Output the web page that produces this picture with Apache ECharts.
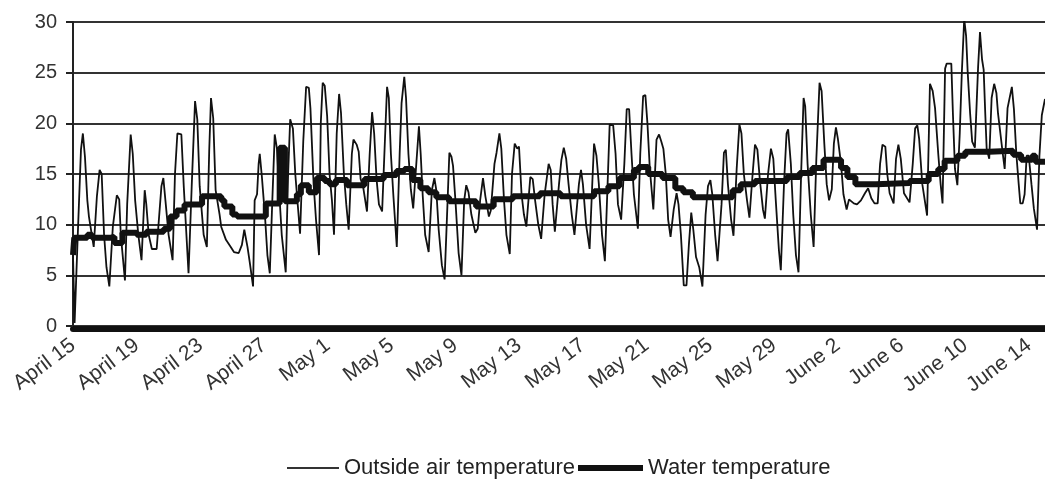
<!DOCTYPE html>
<html>
<head>
<meta charset="utf-8">
<script src="https://cdn.jsdelivr.net/npm/echarts@6/dist/echarts.min.js"></script>
<style>html,body{margin:0;padding:0;background:#fff;}#c{width:1045px;height:482px;}</style>
</head>
<body>
<div id="c"></div>
<script>
// x positions are days since April 15, 00:00
const tickLabels = ['April 15','April 19','April 23','April 27','May 1','May 5','May 9','May 13','May 17','May 21','May 25','May 29','June 2','June 6','June 10','June 14'];
const yTicks = [0, 5, 10, 15, 20, 25, 30];

const airDay = [0.0,0.1,0.3,0.5,0.62,0.75,0.9,1.0,1.3,1.5,1.67,1.8,1.95,2.1,2.28,2.5,2.75,2.9,3.0,3.26,3.4,3.62,3.75,3.9,4.1,4.3,4.5,4.6,4.75,4.95,5.25,5.55,5.67,5.8,6.0,6.25,6.4,6.55,6.8,6.95,7.25,7.45,7.66,7.8,7.95,8.2,8.4,8.55,8.66,8.8,8.95,9.2,9.3,9.6,9.9,10.1,10.4,10.6,10.75,10.95,11.1,11.3,11.4,11.55,11.65,11.72,11.85,12.05,12.2,12.35,12.5,12.66,12.8,12.95,13.1,13.35,13.5,13.63,13.8,13.95,14.25,14.45,14.63,14.8,14.9,15.1,15.25,15.44,15.55,15.67,15.8,15.95,16.1,16.25,16.38,16.55,16.7,16.82,17.0,17.15,17.3,17.5,17.6,17.8,17.93,18.05,18.2,18.45,18.62,18.77,18.9,19.05,19.2,19.4,19.58,19.71,19.82,19.95,20.1,20.32,20.5,20.62,20.79,20.9,21.05,21.2,21.35,21.5,21.71,21.82,21.95,22.1,22.32,22.52,22.68,22.8,22.95,23.15,23.32,23.5,23.62,23.75,23.85,24.0,24.2,24.38,24.55,24.68,24.82,25.0,25.25,25.4,25.55,25.73,25.88,26.1,26.22,26.45,26.58,26.76,26.88,27.05,27.2,27.41,27.55,27.72,27.88,27.99,28.15,28.3,28.45,28.7,28.85,29.0,29.2,29.38,29.6,29.85,29.98,30.1,30.24,30.5,30.65,30.8,30.95,31.1,31.3,31.47,31.75,31.88,32.0,32.2,32.42,32.6,32.7,32.85,33.0,33.2,33.38,33.55,33.68,33.9,34.05,34.2,34.4,34.6,34.75,34.9,35.05,35.2,35.45,35.6,35.78,35.92,36.05,36.2,36.42,36.62,36.78,36.92,37.05,37.2,37.35,37.5,37.7,37.88,38.0,38.15,38.33,38.5,38.65,38.8,38.93,39.1,39.3,39.5,39.7,39.85,40.0,40.12,40.3,40.45,40.7,40.85,40.97,41.1,41.3,41.45,41.65,41.82,41.95,42.1,42.3,42.45,42.65,42.8,42.95,43.1,43.3,43.42,43.62,43.8,43.95,44.1,44.3,44.42,44.62,44.78,44.88,45.05,45.2,45.37,45.53,45.7,45.85,45.95,46.1,46.3,46.48,46.65,46.85,46.98,47.15,47.3,47.45,47.62,47.75,47.88,48.0,48.2,48.35,48.55,48.7,48.85,49.0,49.2,49.45,49.7,49.9,50.1,50.3,50.5,50.65,50.8,50.98,51.1,51.25,51.5,51.65,51.8,51.95,52.15,52.5,52.7,52.85,52.99,53.1,53.3,53.6,53.78,53.95,54.1,54.3,54.45,54.57,54.73,54.83,55.12,55.22,55.35,55.5,55.65,55.78,55.93,56.05,56.15,56.3,56.43,56.6,56.8,56.92,57.05,57.15,57.25,57.34,57.5,57.65,57.81,57.95,58.05,58.2,58.35,58.47,58.65,58.92,59.05,59.2,59.35,59.45,59.6,59.72,59.85,59.98,60.15,60.3,60.5,60.65,60.8,61.0];
const airTemp = [7.0,0.3,9,17.4,19,16.7,12.4,10.8,7.8,12.8,15.4,15,9,5.8,3.9,9.8,12.9,12.5,9,4.5,12,18.9,17,12.4,9,6.5,13.4,12,9,7.6,7.6,13.8,14.6,12.4,9,6.5,15,19,18.9,13.8,5.2,13.8,22.2,20.4,13.8,9,7.8,17.4,22.5,20.5,13.4,11,9.8,8.5,7.8,7.3,7.2,8.0,9.5,7.8,6.2,3.9,12.4,13,16,17,14.8,10.8,7,5.2,12,18.9,17.5,13,9,5.3,15,20.4,19.5,15,9.1,18.2,23.6,23.5,21.5,14,10.5,7.0,20,24,23.7,20.7,15,12.4,9.0,19,22.9,21,15,12,9.5,17,18.4,17.9,17.2,14.5,13.8,11.3,17,21.1,19,14.5,12,11.3,18.5,23.6,22.5,17,13,7.8,17,22,24.6,22.5,17,13.5,11.6,15,19.7,17,12.8,9,7.3,13.4,14.6,13.4,9.5,6,4.6,12,17.1,16.7,15.8,12.4,7.2,5.0,12.4,13.9,13.2,11,9.2,9.6,12.4,14.6,12.8,10.8,11.4,16,17.1,19,17.5,12.4,9,7.1,15,18,17.5,17.7,13,11,9.8,14.7,14.5,12.4,10,8.6,13,16,15.4,12,9.3,14,16.4,17.6,16.5,14,11,9,14,15.4,14,10,7.6,14.5,18,16.8,14,9,6.4,14,19.9,19.8,17,12,10.5,16,21.4,21.4,17,13,9.6,17,22.7,22.8,20,15.5,11.5,18.4,18.9,18.2,17.5,15,10.5,8.8,11.5,13.1,12,9,4.0,4.0,8,11.2,9.5,6.8,5.8,3.9,11,13.8,14.4,13,9,6.4,12,17.1,17.4,14,10.5,8.9,15.5,19.9,19,15,12.4,10.7,15,17.9,17.4,14.5,11.5,10.6,15,17.5,16.5,12.5,7.5,5.5,14,19,19.4,16,11,7,5.3,15.3,22.5,21.7,16,11,7.8,16.5,24,23.2,18,14,12.4,13.5,18,19.6,18.5,16,13,11.5,12.5,12.3,12.1,12,12.4,13.1,13.6,12.6,12.1,12.1,16,17.9,17.7,15,13.1,12.1,16.5,17.9,16.5,13.1,12.2,16,19.5,19.8,18.5,14,10.9,23.9,23.2,21.5,17,14,12.1,25.4,25.9,25.9,21,15.5,13.9,19,25,30.3,28.6,25,21,18.2,17.6,25.5,29,26.3,25.3,21,17.5,16.5,22.5,23.9,23,21,19,17,15.5,21.5,23.6,21.4,17,14,12.1,12.1,13,16.8,16.8,14,11.6,9.5,16.8,20.8,22.4];

const waterDay = [0,0.08,0.9,1.2,2.3,2.6,3.1,4.0,4.6,5.7,6.1,6.5,7.0,8.1,9.3,9.5,10.0,10.3,12.1,12.97,13.3,14.05,14.3,14.8,15.3,15.8,16.1,16.5,17.2,18.3,19.5,20.3,20.8,21.3,21.8,22.3,22.8,23.6,25.3,26.4,27.6,29.3,30.6,32.7,33.6,34.3,35.2,35.5,36.1,37.0,37.8,38.3,38.9,41.4,41.9,42.8,44.8,45.6,46.4,47.1,48.2,48.6,49.1,50.4,52.5,53.7,54.3,54.7,55.5,56.0,57.5,59.0,59.5,60.2,60.4,61.0];
const waterTemp = [7.0,8.7,9.0,8.7,8.8,8.2,9.2,9.0,9.3,9.6,10.8,11.4,12.0,12.8,12.4,11.8,11.0,10.8,12.1,17.6,12.3,13.0,13.9,13.2,14.6,14.3,14.0,14.4,13.9,14.5,14.9,15.3,15.5,14.4,13.6,13.2,12.7,12.3,11.8,12.5,12.8,13.1,12.8,13.3,13.8,14.6,15.4,15.7,15.0,14.6,13.6,13.2,12.7,13.4,14.0,14.3,14.7,15.1,15.6,16.4,15.6,14.7,14.0,14.1,14.3,15.0,15.5,16.3,16.8,17.2,17.3,16.9,16.4,16.8,16.2,16.4];

const airData = airDay.map((d, i) => [d, airTemp[i]]);
const waterData = waterDay.map((d, i) => [d, waterTemp[i]]);

const FONT = 'Liberation Sans, Arial, sans-serif';
const legendText = {fontFamily: FONT, fontSize: 22, color: '#222'};
const chart = echarts.init(document.getElementById('c'), null, {renderer: 'canvas'});
chart.setOption({
  animation: false,
  backgroundColor: '#fff',
  grid: {left: 73, right: 0, top: 22, bottom: 156, containLabel: false},
  legend: [
    {
      left: 282, top: 452, orient: 'horizontal',
      icon: 'rect', itemWidth: 52, itemHeight: 2,
      textStyle: legendText,
      data: ['Outside air temperature']
    },
    {
      left: 573, top: 452, orient: 'horizontal',
      icon: 'rect', itemWidth: 65, itemHeight: 6,
      textStyle: legendText,
      data: ['Water temperature']
    }
  ],
  xAxis: {
    type: 'value',
    min: 0,
    max: 61,
    interval: 4,
    offset: 3,
    axisLine: {show: true, onZero: false, lineStyle: {color: '#111', width: 6}},
    axisTick: {show: false},
    splitLine: {show: false},
    axisLabel: {
      rotate: 37,
      fontFamily: FONT,
      fontSize: 21,
      color: '#333',
      margin: 14,
      showMaxLabel: false,
      formatter: v => (v % 4 === 0 && tickLabels[v / 4] !== undefined) ? tickLabels[v / 4] : ''
    }
  },
  yAxis: {
    type: 'value',
    min: yTicks[0],
    max: yTicks[yTicks.length - 1],
    interval: 5,
    axisLine: {show: true, lineStyle: {color: '#222', width: 2}},
    axisTick: {show: true, length: 7, lineStyle: {color: '#222', width: 2}},
    splitLine: {show: true, lineStyle: {color: '#333', width: 2}},
    axisLabel: {fontFamily: FONT, fontSize: 20, color: '#333', margin: 16}
  },
  series: [
    {
      name: 'Outside air temperature',
      type: 'line',
      data: airData,
      symbol: 'none',
      lineStyle: {color: '#111', width: 1.8},
      itemStyle: {color: '#333'},
      z: 3
    },
    {
      name: 'Water temperature',
      type: 'line',
      step: 'end',
      data: waterData,
      symbol: 'none',
      lineStyle: {color: '#111', width: 6},
      itemStyle: {color: '#111'},
      z: 4
    }
  ]
});
</script>
</body>
</html>
